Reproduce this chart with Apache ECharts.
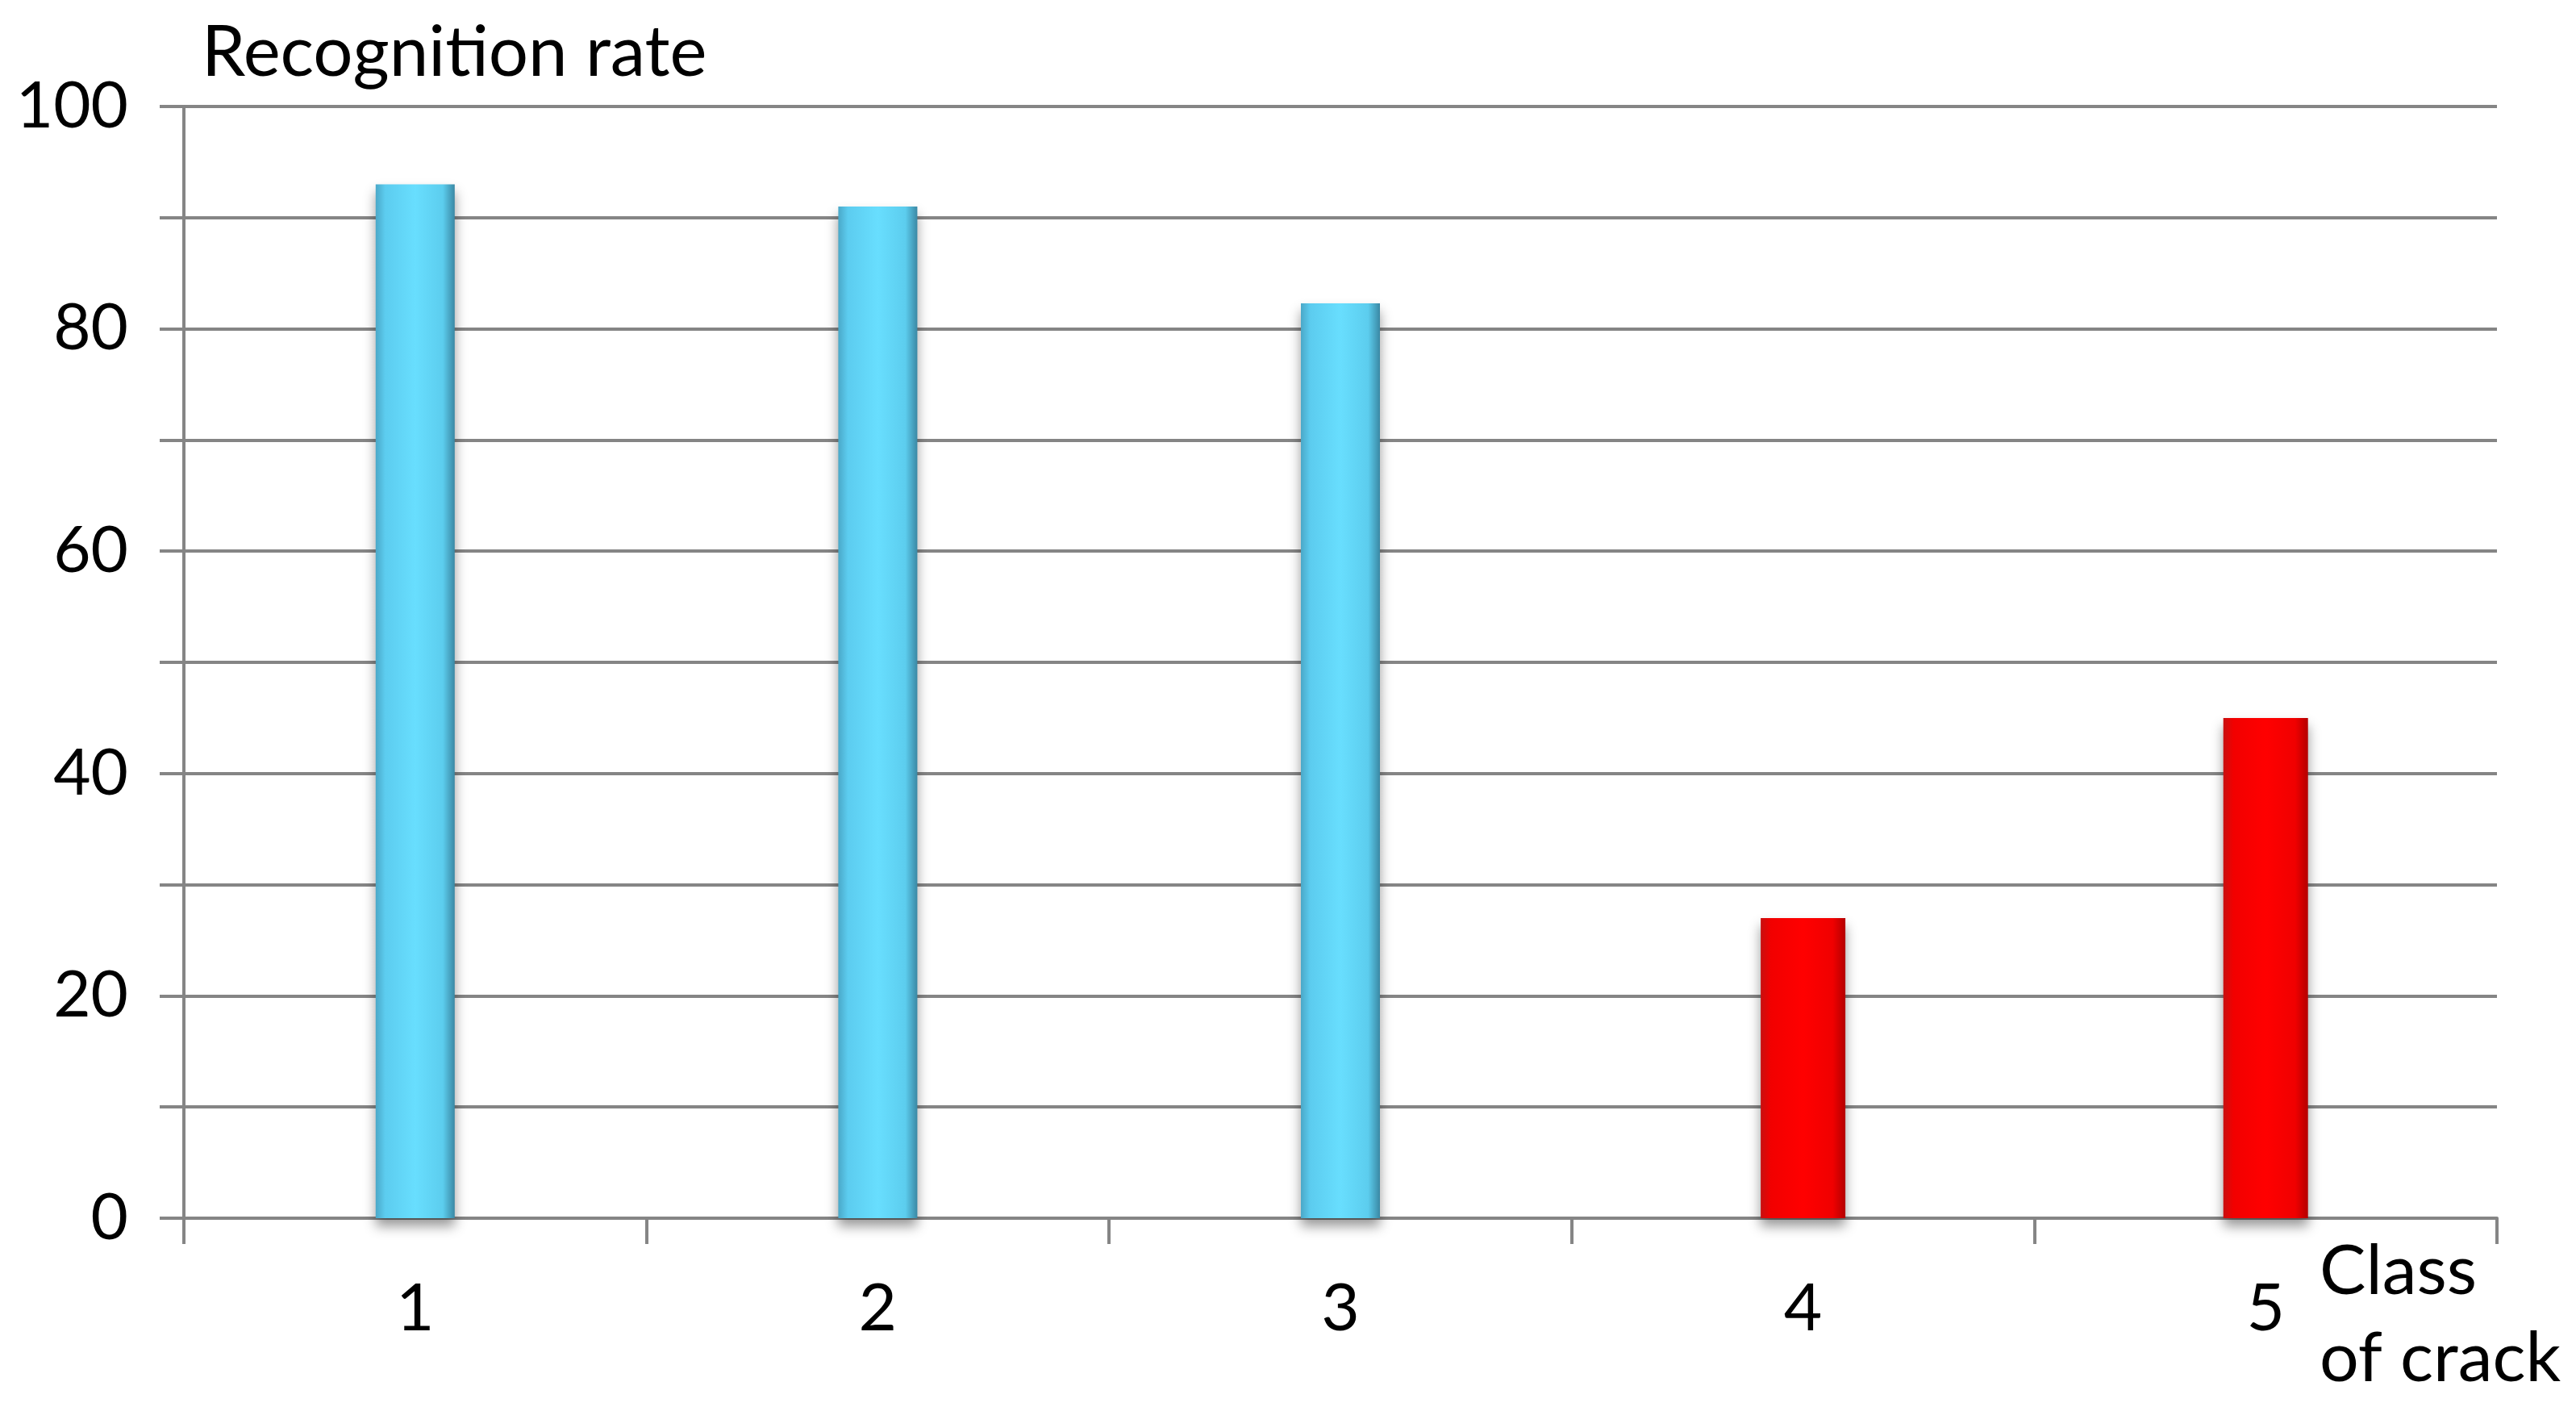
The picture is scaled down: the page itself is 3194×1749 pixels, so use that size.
<!DOCTYPE html>
<html>
<head>
<meta charset="utf-8">
<script src="https://cdn.jsdelivr.net/npm/echarts@6/dist/echarts.min.js"></script>
<style>
html,body{margin:0;padding:0;background:#fff;}
#c{width:3194px;height:1749px;}
</style>
</head>
<body>
<div id="c"></div>
<script>
var categories = ['1', '2', '3', '4', '5'];
var blueValues = [93, 91, 82.3, '-', '-'];
var redValues = ['-', '-', '-', 27, 45];
var yTickLabels = [0, 20, 40, 60, 80, 100];

var FONT = 'Lato';
var GRAY = '#858585';

var chart = echarts.init(document.getElementById('c'));
chart.setOption({
  backgroundColor: '#fff',
  animation: false,
  grid: {left: 228, right: 98, top: 132, bottom: 239, containLabel: false},
  xAxis: [{
    type: 'category',
    data: categories,
    boundaryGap: true,
    name: 'Class\nof crack',
    nameLocation: 'end',
    nameGap: -220,
    nameTextStyle: {fontFamily: FONT, fontSize: 86, color: '#000', align: 'left', verticalAlign: 'top', lineHeight: 108, padding: [12, 0, 0, 0]},
    axisLine: {show: true, lineStyle: {color: GRAY, width: 4}},
    axisTick: {show: true, length: 32, lineStyle: {color: GRAY, width: 4}},
    axisLabel: {fontFamily: FONT, fontSize: 82, color: '#000', margin: 72},
    splitLine: {show: false}
  }, {
    type: 'category',
    data: categories,
    boundaryGap: true,
    position: 'bottom',
    show: false
  }],
  yAxis: {
    type: 'value',
    min: 0,
    max: 100,
    interval: 10,
    name: 'Recognition rate',
    nameLocation: 'end',
    nameGap: 66,
    nameTextStyle: {fontFamily: FONT, fontSize: 87, color: '#000', align: 'left', verticalAlign: 'middle', padding: [0, 0, 0, 22]},
    axisLine: {show: true, lineStyle: {color: GRAY, width: 4}},
    axisTick: {show: true, length: 30, lineStyle: {color: GRAY, width: 4}},
    axisLabel: {
      fontFamily: FONT, fontSize: 80, color: '#000', margin: 69,
      formatter: function (v) { return yTickLabels.indexOf(v) >= 0 ? String(v) : ''; }
    },
    splitLine: {show: true, lineStyle: {color: GRAY, width: 4}}
  },
  series: [{
    type: 'bar',
    xAxisIndex: 0,
    data: blueValues,
    barWidth: 98,
    itemStyle: {
      color: new echarts.graphic.LinearGradient(0, 0, 1, 0, [
        {offset: 0, color: '#4aa8c8'},
        {offset: 0.12, color: '#5cccef'},
        {offset: 0.5, color: '#68defe'},
        {offset: 0.85, color: '#5ccdee'},
        {offset: 1, color: '#3a88a4'}
      ]),
      shadowColor: 'rgba(0,0,0,0.4)',
      shadowBlur: 14,
      shadowOffsetY: 10
    }
  }, {
    type: 'bar',
    xAxisIndex: 1,
    data: redValues,
    barWidth: 105,
    itemStyle: {
      color: new echarts.graphic.LinearGradient(0, 0, 1, 0, [
        {offset: 0, color: '#c81010'},
        {offset: 0.12, color: '#f20000'},
        {offset: 0.5, color: '#ff0000'},
        {offset: 0.85, color: '#f00000'},
        {offset: 1, color: '#b40000'}
      ]),
      shadowColor: 'rgba(0,0,0,0.4)',
      shadowBlur: 14,
      shadowOffsetY: 10
    }
  }]
});
</script>
</body>
</html>
